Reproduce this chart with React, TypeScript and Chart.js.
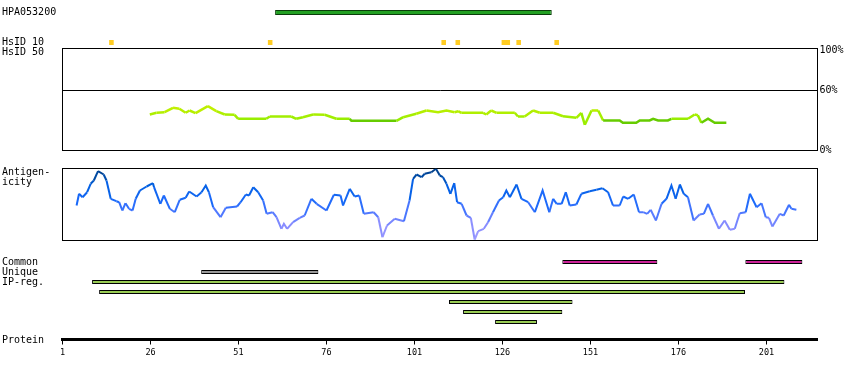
import { useEffect, useRef } from 'react';
import { Chart, registerables } from 'chart.js';

Chart.register(...registerables);

// ---------------- data ----------------
const antibodyLabel = 'HPA053200';
const antigenRegion = [61.4, 140];
const hsid10Residues = [14.9, 60.0, 109.3, 113.3, 126.4, 127.5, 130.6, 141.4];

const identityResidues = [25.8, 27.7, 30.0, 32.4, 34.2, 36.0, 37.1, 38.8, 42.3, 44.7, 47.1, 49.9, 50.9, 58.9, 59.9, 66.0, 67.4, 69.3, 72.2, 75.5, 78.8, 82.6, 83.1, 95.9, 97.8, 101.5, 104.4, 107.7, 110.1, 112.4, 113.4, 114.3, 120.5, 121.4, 122.8, 124.3, 129.5, 130.4, 132.3, 134.7, 136.6, 140.4, 143.2, 147.0, 148.4, 149.4, 151.3, 153.2, 154.6, 159.3, 160.2, 164.0, 165.0, 167.8, 168.8, 170.2, 173.0, 174.0, 178.7, 180.6, 181.5, 182.5, 184.4, 186.3, 189.6];
const identityValues = [36, 37.7, 38.3, 42.7, 41.7, 37.7, 40, 37.3, 44.3, 39.3, 36, 35.7, 31.7, 31.7, 34, 34, 31.7, 33.3, 36, 35.7, 31.7, 31.7, 29.7, 29.7, 33.3, 36.7, 40, 38.3, 40, 38.3, 39.3, 37.7, 37.7, 36, 40, 37.7, 37.7, 34, 34, 40, 37.7, 37.7, 34.3, 32.7, 37.7, 25.7, 40, 40, 30, 30, 27.7, 27.7, 30, 30, 31.7, 30, 30, 31.7, 31.7, 36, 35.3, 27.7, 31.7, 27.7, 27.7];

const antigenicityResidues = [5.0, 5.7, 6.7, 8.0, 9.0, 9.9, 11.1, 12.7, 13.5, 14.7, 16.3, 17.1, 18.0, 18.9, 19.9, 20.9, 21.8, 23.0, 24.9, 26.7, 27.0, 28.8, 29.8, 31.5, 32.9, 34.3, 36.0, 37.0, 39.1, 40.5, 41.7, 42.6, 43.8, 45.9, 47.4, 50.6, 51.6, 53.1, 54.0, 55.2, 56.6, 58.0, 59.0, 60.7, 61.8, 63.2, 63.9, 64.8, 66.5, 68.4, 69.8, 71.7, 73.2, 76.0, 78.1, 80.0, 80.7, 82.6, 84.0, 85.3, 86.6, 89.4, 90.7, 91.9, 93.2, 95.4, 98.0, 99.6, 100.6, 101.6, 103.0, 103.9, 105.8, 107.1, 108.2, 109.1, 110.1, 111.2, 112.3, 113.1, 114.4, 115.8, 117.0, 118.1, 119.1, 120.7, 121.9, 123.3, 125.0, 126.2, 127.1, 128.1, 130.0, 131.4, 133.3, 135.2, 137.4, 139.3, 140.4, 141.4, 142.8, 144.0, 145.1, 147.0, 148.4, 150.8, 152.7, 154.4, 156.0, 157.4, 159.3, 160.3, 161.7, 163.3, 164.8, 166.0, 167.1, 168.1, 169.6, 171.2, 172.6, 174.0, 175.2, 176.4, 177.5, 178.7, 180.3, 182.0, 183.2, 184.4, 185.8, 187.5, 189.1, 190.6, 192.0, 193.4, 195.1, 196.3, 198.2, 199.6, 200.8, 201.7, 202.7, 204.8, 205.9, 207.4, 208.1, 209.5];
const antigenicityValues = [35, 46.7, 43.3, 48.3, 56.7, 60, 69.3, 66, 60, 41.7, 39.3, 38.3, 30, 37.3, 31.7, 30, 41.7, 50, 54, 57.3, 53.3, 36.7, 45, 31.7, 28.3, 40.7, 42.7, 49, 44, 48.3, 55, 48.3, 33.3, 23.3, 32.7, 34, 38.3, 46, 45, 53.3, 48.3, 40, 26.7, 28.3, 23.3, 11.7, 16.7, 11.7, 18.3, 22.7, 25, 41.7, 36.7, 30, 45.7, 45, 35, 51.7, 44, 45, 26.7, 28.3, 23.3, 3.3, 15, 21.7, 19.3, 40, 61.7, 66, 63.3, 66.7, 68.3, 71.7, 65, 63.3, 56.7, 46.7, 57.3, 38.3, 36.7, 25, 22.7, 1, 9.3, 11.7, 18.3, 28.3, 40, 43.3, 50, 43.3, 56, 41.7, 38.3, 28.3, 50, 28.3, 41.7, 36.7, 36.7, 48.3, 35, 36, 46.7, 49.3, 50.7, 52.3, 48.3, 35, 35, 44, 41.7, 46, 28.3, 28.3, 26.7, 30.7, 20, 36.7, 41.7, 55, 41.7, 56, 46.7, 43.3, 20, 26, 26.7, 36.7, 25, 11.7, 20, 10.7, 11.7, 27.3, 28.3, 46.7, 33.3, 37.3, 23.3, 22.7, 14, 26.7, 25, 35.7, 31.7, 30.7];

const commonRegions = [[143, 170], [195, 211.2]];
const uniqueRegions = [[40.4, 73.7]];
const ipRegions = [[9.4, 206.1], [11.4, 194.9], [110.8, 145.9], [114.8, 143], [123.9, 135.8]];

const proteinTickValues = [1, 26, 51, 76, 101, 126, 151, 176, 201];
const identityTickValues = [0, 60, 100];
const topRowLabels = [antibodyLabel, '', '', 'HsID 10', 'HsID 50'];
const featureRowLabels = ['Common', 'Unique', 'IP-reg.', '', '', '', ''];
const antigenicityLabel = ['Antigen-', 'icity'];
const proteinLabel = 'Protein';

// ---------------- layout / style ----------------
const W = 850;
const H = 380;
const LEFT = 62.5;
const RIGHT = 817.5;
const LABEL_X = 2;
const X_MIN = 1;
const X_MAX = 215.5;
const LABEL_FONT = { family: '"DejaVu Sans Mono", monospace', size: 10, lineHeight: 1 };
const TICK_FONT = { family: '"DejaVu Sans Mono", monospace', size: 8.5, lineHeight: 1 };

Chart.defaults.color = '#000';

const framePlugin = {
  id: 'frame',
  beforeDatasetsDraw(chart: any) {
    const { ctx, chartArea: a } = chart;
    ctx.save();
    ctx.strokeStyle = '#000';
    ctx.lineWidth = 1;
    ctx.strokeRect(a.left, a.top, a.right - a.left, a.bottom - a.top);
    ctx.restore();
  },
};

const xHidden = { type: 'linear', min: X_MIN, max: X_MAX, display: false };

function labelAxis(extra: any = {}) {
  const { ticks = {}, ...rest } = extra;
  return {
    position: 'left',
    afterFit: (s: any) => { s.width = LEFT - LABEL_X; },
    grid: { display: false, drawTicks: false },
    border: { display: false },
    ...rest,
    ticks: { crossAlign: 'far', padding: 0, autoSkip: false, color: '#000', font: LABEL_FONT, ...ticks },
  };
}

function baseOptions(padding: any, scales: any, extra: any = {}) {
  return {
    responsive: false,
    animation: false,
    events: [],
    layout: { padding },
    plugins: { legend: { display: false }, tooltip: { enabled: false } },
    scales,
    ...extra,
  };
}

function rowBar(nRows: number, row: number, range: number[], fill: string, border: string, borderWidth: number, thickness: number) {
  const data: any[] = Array(nRows).fill(null);
  data[row] = range;
  return {
    data,
    grouped: false,
    barThickness: thickness,
    backgroundColor: fill,
    borderColor: border,
    borderWidth,
    borderSkipped: false,
    inflateAmount: 0,
  };
}

function mix(stops: [number, number[]][], v: number) {
  if (v <= stops[0][0]) return `rgb(${stops[0][1].join(',')})`;
  for (let i = 1; i < stops.length; i++) {
    if (v <= stops[i][0]) {
      const [v0, c0] = stops[i - 1];
      const [v1, c1] = stops[i];
      const t = (v - v0) / (v1 - v0);
      return `rgb(${c0.map((c, k) => Math.round(c + (c1[k] - c) * t)).join(',')})`;
    }
  }
  return `rgb(${stops[stops.length - 1][1].join(',')})`;
}

const antigenicityStops: [number, number[]][] = [
  [0, [165, 160, 255]],
  [15, [135, 140, 255]],
  [28, [80, 120, 255]],
  [40, [25, 105, 250]],
  [55, [0, 95, 225]],
  [64, [0, 75, 165]],
  [72, [0, 60, 130]],
];

function identityColor(v: number) {
  if (v < 31) return '#66cc00';
  return mix([[31, [150, 238, 0]], [45, [205, 240, 0]]], v);
}

// ---------------- configs ----------------
function topConfig(): any {
  const n = topRowLabels.length;
  const hsRow = topRowLabels.indexOf('HsID 10');
  return {
    type: 'bar',
    data: {
      labels: topRowLabels,
      datasets: [
        rowBar(n, 0, antigenRegion, '#22a022', '#0a3d0a', 1, 5),
        ...hsid10Residues.map((r) => rowBar(n, hsRow, [r - 0.65, r + 0.65], '#ffcc22', '#ffcc22', 0, 5)),
      ],
    },
    options: baseOptions(
      { left: LABEL_X, right: W - RIGHT, top: 7.5, bottom: H - 57.5 },
      { x: xHidden, y: labelAxis({ type: 'category', offset: true }) },
      { indexAxis: 'y' }
    ),
  };
}

function identityConfig(): any {
  return {
    type: 'line',
    data: {
      datasets: [{
        data: identityResidues.map((x, i) => ({ x, y: identityValues[i] })),
        borderWidth: 2.5,
        pointRadius: 0,
        borderColor: '#99ee00',
        segment: { borderColor: (c: any) => identityColor((c.p0.parsed.y + c.p1.parsed.y) / 2) },
      }],
    },
    options: baseOptions(
      { left: LEFT, right: 0, top: 48.5, bottom: H - 150.5 },
      {
        x: xHidden,
        y: {
          type: 'linear', position: 'right', min: 0, max: 102,
          afterFit: (s: any) => { s.width = W - RIGHT; },
          afterBuildTicks: (s: any) => { s.ticks = identityTickValues.map((value) => ({ value })); },
          ticks: { callback: (v: any) => `${v}%`, padding: 2, font: LABEL_FONT, color: '#000', autoSkip: false },
          grid: {
            drawTicks: false, lineWidth: 1,
            color: (c: any) => (c.tick && c.tick.value === 60 ? '#000' : 'rgba(0,0,0,0)'),
          },
          border: { display: false },
        },
      }
    ),
    plugins: [framePlugin],
  };
}

function antigenicityConfig(): any {
  return {
    type: 'line',
    data: {
      datasets: [{
        data: antigenicityResidues.map((x, i) => ({ x, y: antigenicityValues[i] })),
        borderWidth: 2,
        pointRadius: 0,
        borderColor: '#1a6af0',
        segment: { borderColor: (c: any) => mix(antigenicityStops, (c.p0.parsed.y + c.p1.parsed.y) / 2) },
      }],
    },
    options: baseOptions(
      { left: LABEL_X, right: W - RIGHT, top: 168.5, bottom: H - 240.5 },
      {
        x: xHidden,
        y: labelAxis({
          type: 'linear', min: 0, max: 72,
          afterBuildTicks: (s: any) => { s.ticks = [{ value: 63 }]; },
          ticks: { callback: () => antigenicityLabel },
        }),
      }
    ),
    plugins: [framePlugin],
  };
}

function featureConfig(): any {
  const n = featureRowLabels.length;
  const ipStart = featureRowLabels.indexOf('IP-reg.');
  return {
    type: 'bar',
    data: {
      labels: featureRowLabels,
      datasets: [
        ...commonRegions.map((r) => rowBar(n, 0, r, '#cc2299', '#000', 1, 4)),
        ...uniqueRegions.map((r) => rowBar(n, 1, r, '#999999', '#000', 1, 4)),
        ...ipRegions.map((r, i) => rowBar(n, ipStart + i, r, '#99cc55', '#000', 1, 4)),
      ],
    },
    options: baseOptions(
      { left: LABEL_X, right: W - RIGHT, top: 257, bottom: H - 327 },
      { x: xHidden, y: labelAxis({ type: 'category', offset: true }) },
      { indexAxis: 'y' }
    ),
  };
}

function proteinConfig(): any {
  return {
    type: 'line',
    data: { datasets: [] },
    options: baseOptions(
      { left: LABEL_X, right: W - RIGHT, top: 329.5, bottom: 0 },
      {
        x: {
          type: 'linear', position: 'bottom', min: X_MIN, max: X_MAX,
          afterFit: (s: any) => { s.height = H - 339.5; },
          afterBuildTicks: (s: any) => { s.ticks = proteinTickValues.map((value) => ({ value })); },
          ticks: { callback: (v: any) => String(v), autoSkip: false, maxRotation: 0, padding: 4, font: TICK_FONT, color: '#000' },
          grid: { drawOnChartArea: false, drawTicks: true, tickLength: 5, color: '#000', lineWidth: 1 },
          border: { display: true, width: 3, color: '#000' },
        },
        y: labelAxis({ type: 'category', labels: [proteinLabel], offset: true, ticks: { labelOffset: 5.5 } }),
      }
    ),
  };
}

export default function App() {
  const r0 = useRef<HTMLCanvasElement>(null);
  const r1 = useRef<HTMLCanvasElement>(null);
  const r2 = useRef<HTMLCanvasElement>(null);
  const r3 = useRef<HTMLCanvasElement>(null);
  const r4 = useRef<HTMLCanvasElement>(null);
  const refs = [r0, r1, r2, r3, r4];

  useEffect(() => {
    document.body.style.margin = '0';
    document.body.style.overflow = 'hidden';
    const configs = [topConfig(), identityConfig(), antigenicityConfig(), featureConfig(), proteinConfig()];
    const charts = configs.map((cfg, i) => new Chart(refs[i].current as HTMLCanvasElement, cfg));
    return () => charts.forEach((c) => c.destroy());
  }, []);

  return (
    <div style={{ position: 'relative', width: W, height: H, background: '#fff' }}>
      {refs.map((r, i) => (
        <canvas key={i} ref={r} width={W} height={H} style={{ position: 'absolute', left: 0, top: 0, width: W, height: H }} />
      ))}
    </div>
  );
}
